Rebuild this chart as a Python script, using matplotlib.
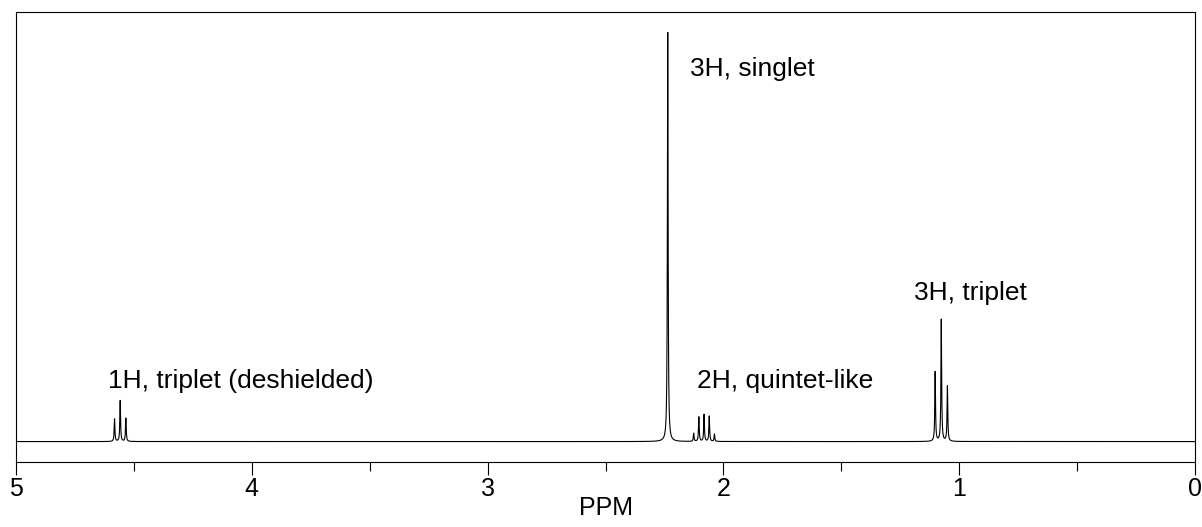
import numpy as np
import matplotlib.pyplot as plt

plt.rcParams['font.family'] = ['Liberation Sans', 'DejaVu Sans']

# peak list (ppm, height relative to the singlet)
peak_ppm = [4.582, 4.558, 4.534,
            2.236,
            2.126, 2.104, 2.082, 2.060, 2.038,
            1.102, 1.076, 1.050]
peak_height = [0.055, 0.100, 0.057,
               1.0,
               0.020, 0.060, 0.066, 0.062, 0.018,
               0.170, 0.298, 0.135]
hwhm = 0.0018

labels = ["1H, triplet (deshielded)", "3H, singlet", "2H, quintet-like", "3H, triplet"]
label_x = [4.61, 2.14, 2.11, 1.19]
label_y = [0.13, 0.893, 0.13, 0.346]

ppm = np.linspace(0, 5, 40001)
spec = np.zeros_like(ppm)
for p, h in zip(peak_ppm, peak_height):
    spec += h / (1 + ((ppm - p) / hwhm) ** 2)

fig = plt.figure(figsize=(12.02, 5.27), dpi=100)
ax = fig.add_axes([0.0133, 0.1233, 0.9809, 0.8539])
ax.plot(ppm, spec, color='black', lw=0.8)

for t, x, y in zip(labels, label_x, label_y):
    ax.text(x, y, t, fontsize=19, ha='left', va='baseline')

ax.set_xlim(5, 0)
ax.set_ylim(-0.05, 1.05)
ax.set_yticks([])
ax.set_xticks([5, 4, 3, 2, 1, 0])
ax.set_xticks([4.5, 3.5, 2.5, 1.5, 0.5], minor=True)
ax.tick_params(axis='x', which='major', direction='out', length=9, width=0.8, labelsize=18, pad=2)
ax.tick_params(axis='x', which='minor', direction='out', length=6.5, width=0.8)
ax.set_xlabel("PPM", fontsize=18, labelpad=-4)
for s in ax.spines.values():
    s.set_linewidth(0.8)

fig.savefig("out.png", dpi=100)
